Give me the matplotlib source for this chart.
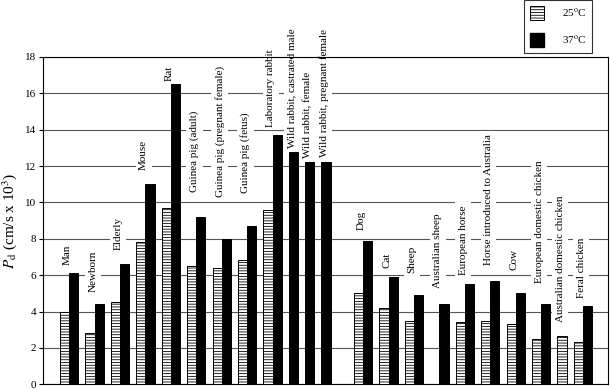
import numpy as np
import matplotlib
matplotlib.use("Agg")
import matplotlib.pyplot as plt
from matplotlib.patches import Patch

plt.rcParams['font.family'] = ['Liberation Serif', 'DejaVu Serif']
plt.rcParams['mathtext.fontset'] = 'stix'
plt.rcParams['hatch.linewidth'] = 0.6

# ---- data ----
categories = ["Man", "Newborn", "Elderly", "Mouse", "Rat", "Guinea pig (adult)",
              "Guinea pig (pregnant female)", "Guinea pig (fetus)", "Laboratory rabbit",
              "Wild rabbit, castrated male", "Wild rabbit, female",
              "Wild rabbit, pregnant female",
              "Dog", "Cat", "Sheep", "Australian sheep", "European horse",
              "Horse introduced to Australia", "Cow", "European domestic chicken",
              "Australian domestic chicken", "Feral chicken"]
# None = no bar and no slot; nan = empty slot kept
v25 = [4.0, 2.8, 4.5, 7.8, 9.7, 6.5, 6.4, 6.85, 9.6, None, None, None,
       5.0, 4.2, 3.5, np.nan, 3.4, 3.5, 3.3, 2.5, 2.65, 2.35]
v37 = [6.1, 4.4, 6.6, 11.0, 16.5, 9.2, 8.0, 8.7, 13.7, 12.8, 12.2, 12.2,
       7.9, 5.9, 4.9, 4.4, 5.5, 5.7, 5.0, 4.4, None, 4.3]
# bottom of each rotated category label (data units)
label_y = [6.55, 5.1, 7.4, 11.8, 16.7, 10.6, 10.3, 10.5, 14.15, 13.0, 12.45, 12.5,
           8.5, 6.4, 6.1, 5.3, 6.0, 6.55, 6.3, 5.55, 3.4, 4.75]
section_break = 12
series_labels = ["25$^{\\rm o}$C", "37$^{\\rm o}$C"]
yticks = [0, 2, 4, 6, 8, 10, 12, 14, 16, 18]

# ---- layout ----
W, G = 1.0, 0.79
fig = plt.figure(figsize=(6.10, 3.90), dpi=100)
ax = fig.add_axes([43/610, (390-384.3)/390, (608-43)/610, (384.3-57)/390])

x25, h25, x37, h37, centers = [], [], [], [], []
cur = 0.0
for i in range(len(categories)):
    if i == section_break:
        cur += W + G
    start = cur
    if v25[i] is not None:
        x25.append(cur); h25.append(v25[i]); cur += W
    if v37[i] is not None:
        x37.append(cur); h37.append(v37[i]); cur += W
    centers.append((start + cur) / 2)
    cur += G
end = cur - G

ax.bar(x25, h25, width=W, align='edge', color='white', edgecolor='black',
       hatch='------', linewidth=0.7, zorder=3)
ax.bar(x37, h37, width=W, align='edge', color='black', edgecolor='black',
       linewidth=0.7, zorder=3)

for c, y, name in zip(centers, label_y, categories):
    ax.text(c - 0.2, y, name, rotation=90, ha='center', va='bottom', fontsize=8,
            zorder=2, bbox=dict(facecolor='white', edgecolor='none', pad=2.5))

ax.set_xlim(-1.87, end + 1.76)
ax.set_ylim(0, 18)
ax.set_yticks(yticks)
ax.set_xticks([])
ax.tick_params(axis='y', direction='out', length=3, width=0.8, labelsize=8, pad=2)
ax.yaxis.grid(True, color='#555555', linewidth=0.8)
ax.set_axisbelow(True)
for s in ax.spines.values():
    s.set_linewidth(0.8)
ax.set_ylabel(r'$P_{\rm d}$ (cm/s x 10$^{3}$)', fontsize=11, labelpad=4)

handles = [Patch(facecolor='white', edgecolor='black', hatch='------', linewidth=0.7),
           Patch(facecolor='black', edgecolor='black')]
leg = fig.legend(handles, series_labels, loc='upper right',
                 bbox_to_anchor=(591.7/610, 1.0), fontsize=8, frameon=True,
                 fancybox=False, edgecolor='black', handlelength=1.25,
                 handleheight=1.6, handletextpad=1.6, labelspacing=1.2,
                 borderpad=0.5, borderaxespad=0.0)
leg.get_frame().set_linewidth(0.8)

fig.savefig("out.png", dpi=100)
